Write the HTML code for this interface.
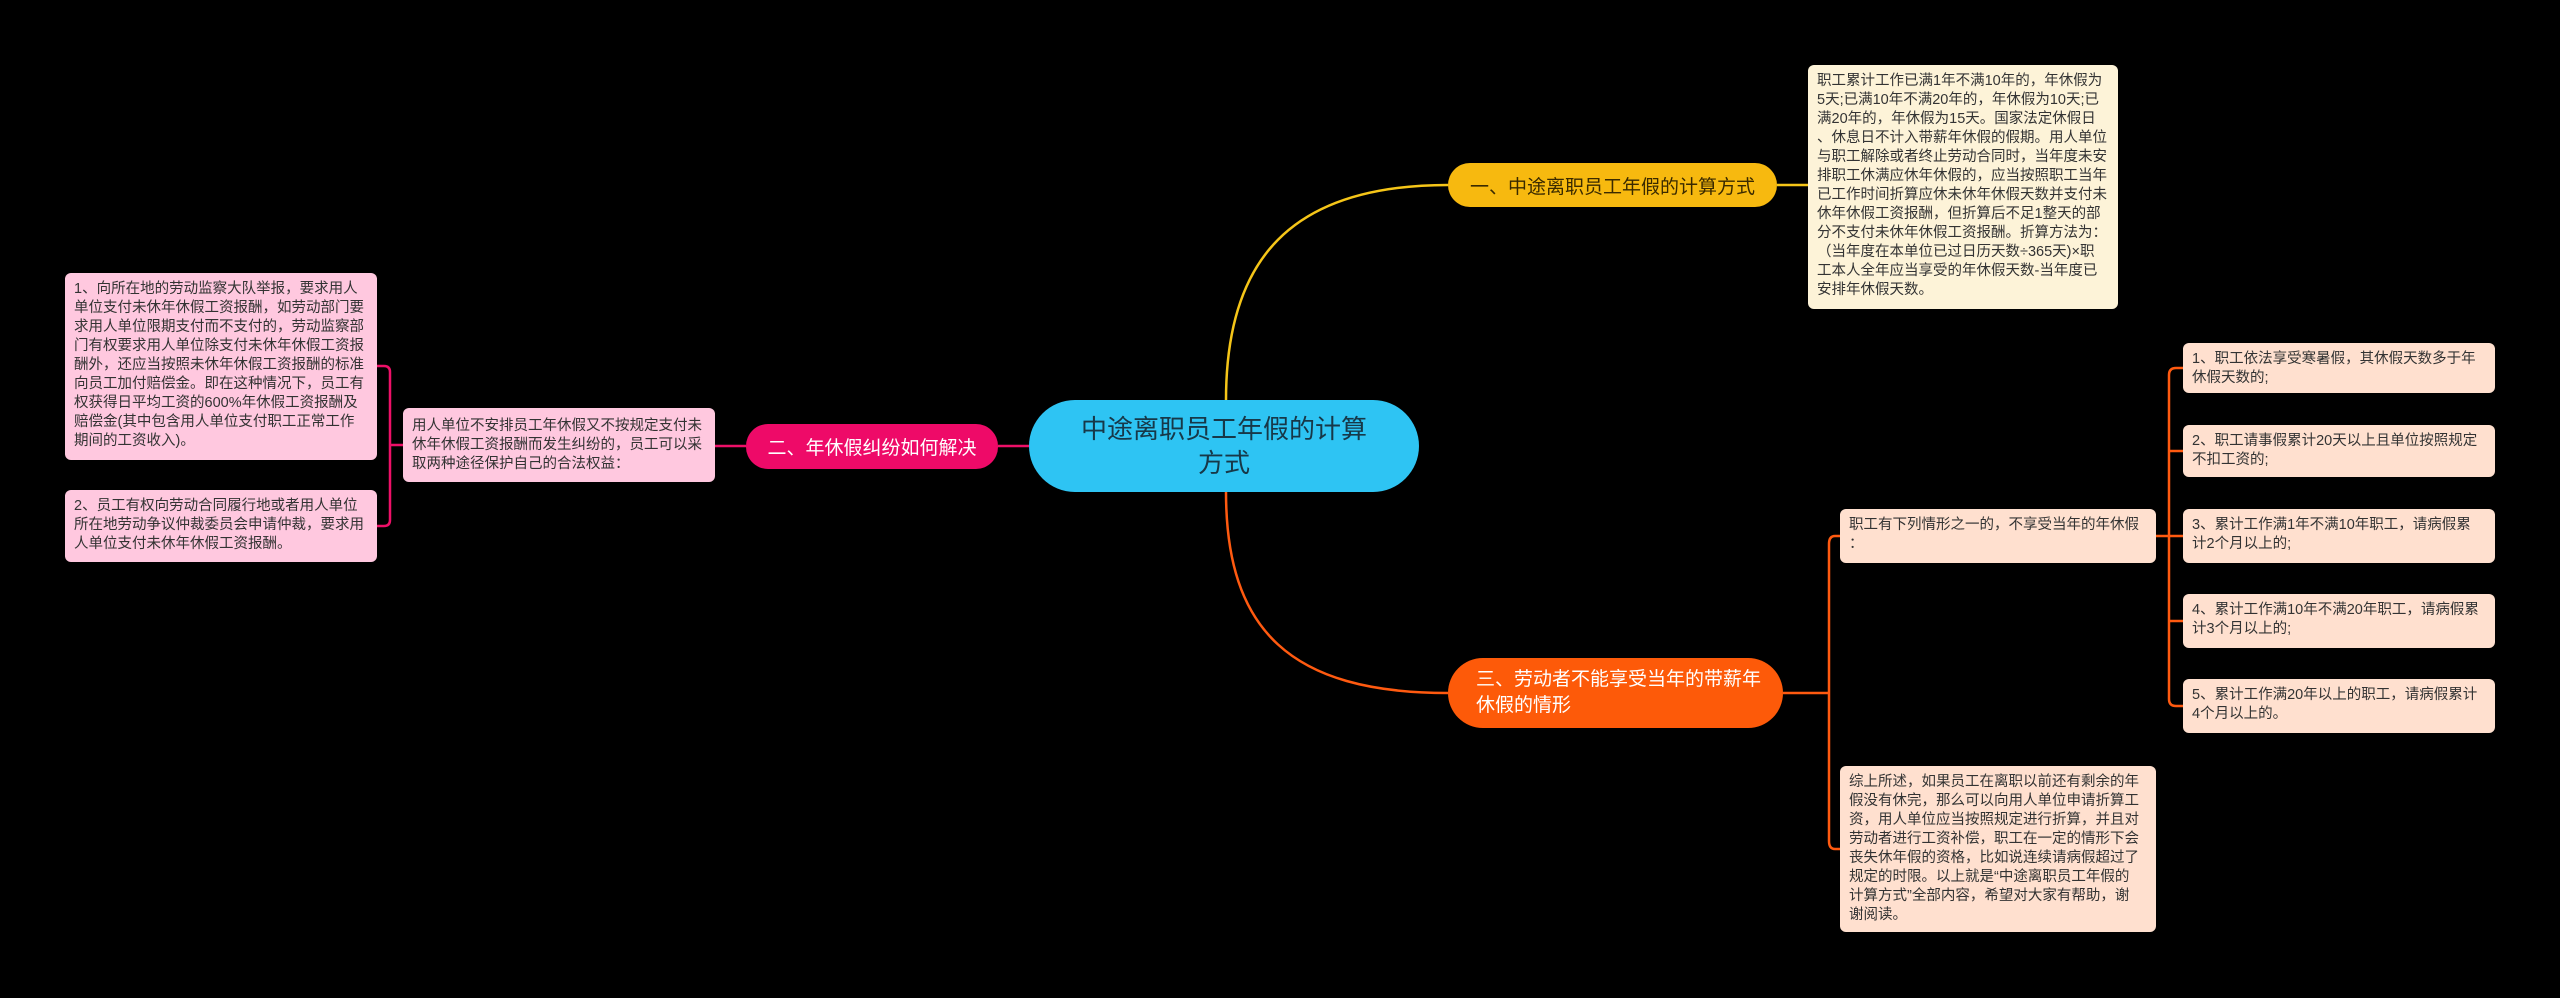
<!DOCTYPE html>
<html><head><meta charset="utf-8">
<style>
html,body{margin:0;padding:0;background:#000;}
body{width:2560px;height:998px;position:relative;overflow:hidden;font-family:"Liberation Sans","Noto Sans CJK SC",sans-serif;}
.b{position:absolute;box-sizing:border-box;border-radius:6px;font-size:14.5px;line-height:19px;color:#333;padding:7px 9px;white-space:nowrap;}
.y{background:#fdf3d8;}
.p{background:#ffc8df;}
.o{background:#ffe0cf;}
.n{position:absolute;box-sizing:border-box;display:flex;align-items:center;justify-content:center;text-align:center;}
svg{position:absolute;left:0;top:0;}
</style></head><body>
<svg width="2560" height="998">
<g fill="none" stroke-width="2.5">
<path d="M1226 400 C1226 260 1290 185 1448 185" stroke="#f5c518"/>
<path d="M1777 185 L1808 185" stroke="#f5c518"/>
<path d="M1226 492 C1226 630 1290 693 1448 693" stroke="#ff5a10"/>
<path d="M1029 446 L998 446" stroke="#ee1068"/>
<path d="M746 446 L715 446" stroke="#ee1068"/>
<path d="M403 445 L390 445 M377 366 L384 366 Q390 366 390 372 L390 520 Q390 526 384 526 L377 526" stroke="#ee1068"/>
<path d="M1783 693 L1829 693 M1840 536 L1835 536 Q1829 536 1829 544 L1829 841 Q1829 849 1835 849 L1840 849" stroke="#ff5a10"/>
<path d="M2156 536 L2183 536 M2183 368 L2176 368 Q2169 368 2169 375 L2169 699 Q2169 706 2176 706 L2183 706 M2169 451 L2183 451 M2169 621 L2183 621" stroke="#ff5a10"/>
</g>
</svg>

<div class="n" style="left:1029px;top:400px;width:390px;height:92px;border-radius:46px;background:#2ec4f3;color:#173848;font-size:26px;line-height:34px;">中途离职员工年假的计算<br>方式</div>
<div class="n" style="left:1448px;top:163px;width:329px;height:44px;border-radius:22px;background:#f7b90f;color:#3a2a00;font-size:19px;">一、中途离职员工年假的计算方式</div>
<div class="n" style="left:746px;top:424px;width:252px;height:45px;border-radius:22px;background:#ee0a68;color:#fff;font-size:19px;">二、年休假纠纷如何解决</div>
<div class="n" style="left:1448px;top:658px;width:335px;height:70px;border-radius:35px;background:#fd5a09;color:#fff;font-size:19px;line-height:26px;justify-content:flex-start;text-align:left;padding-left:28px;">三、劳动者不能享受当年的带薪年<br>休假的情形</div>

<div class="b y" style="left:1808px;top:65px;width:310px;height:244px;">职工累计工作已满1年不满10年的，年休假为<br>5天;已满10年不满20年的，年休假为10天;已<br>满20年的，年休假为15天。国家法定休假日<br>、休息日不计入带薪年休假的假期。用人单位<br>与职工解除或者终止劳动合同时，当年度未安<br>排职工休满应休年休假的，应当按照职工当年<br>已工作时间折算应休未休年休假天数并支付未<br>休年休假工资报酬，但折算后不足1整天的部<br>分不支付未休年休假工资报酬。折算方法为：<br>（当年度在本单位已过日历天数÷365天)×职<br>工本人全年应当享受的年休假天数-当年度已<br>安排年休假天数。</div>

<div class="b p" style="left:65px;top:273px;width:312px;height:187px;">1、向所在地的劳动监察大队举报，要求用人<br>单位支付未休年休假工资报酬，如劳动部门要<br>求用人单位限期支付而不支付的，劳动监察部<br>门有权要求用人单位除支付未休年休假工资报<br>酬外，还应当按照未休年休假工资报酬的标准<br>向员工加付赔偿金。即在这种情况下，员工有<br>权获得日平均工资的600%年休假工资报酬及<br>赔偿金(其中包含用人单位支付职工正常工作<br>期间的工资收入)。</div>
<div class="b p" style="left:65px;top:490px;width:312px;height:72px;">2、员工有权向劳动合同履行地或者用人单位<br>所在地劳动争议仲裁委员会申请仲裁，要求用<br>人单位支付未休年休假工资报酬。</div>
<div class="b p" style="left:403px;top:408px;width:312px;height:74px;padding-top:9px;">用人单位不安排员工年休假又不按规定支付未<br>休年休假工资报酬而发生纠纷的，员工可以采<br>取两种途径保护自己的合法权益：</div>

<div class="b o" style="left:1840px;top:509px;width:316px;height:54px;">职工有下列情形之一的，不享受当年的年休假<br>：</div>
<div class="b o" style="left:2183px;top:343px;width:312px;height:50px;">1、职工依法享受寒暑假，其休假天数多于年<br>休假天数的;</div>
<div class="b o" style="left:2183px;top:425px;width:312px;height:52px;">2、职工请事假累计20天以上且单位按照规定<br>不扣工资的;</div>
<div class="b o" style="left:2183px;top:509px;width:312px;height:54px;">3、累计工作满1年不满10年职工，请病假累<br>计2个月以上的;</div>
<div class="b o" style="left:2183px;top:594px;width:312px;height:54px;">4、累计工作满10年不满20年职工，请病假累<br>计3个月以上的;</div>
<div class="b o" style="left:2183px;top:679px;width:312px;height:54px;">5、累计工作满20年以上的职工，请病假累计<br>4个月以上的。</div>
<div class="b o" style="left:1840px;top:766px;width:316px;height:166px;">综上所述，如果员工在离职以前还有剩余的年<br>假没有休完，那么可以向用人单位申请折算工<br>资，用人单位应当按照规定进行折算，并且对<br>劳动者进行工资补偿，职工在一定的情形下会<br>丧失休年假的资格，比如说连续请病假超过了<br>规定的时限。以上就是“中途离职员工年假的<br>计算方式”全部内容，希望对大家有帮助，谢<br>谢阅读。</div>
</body></html>
